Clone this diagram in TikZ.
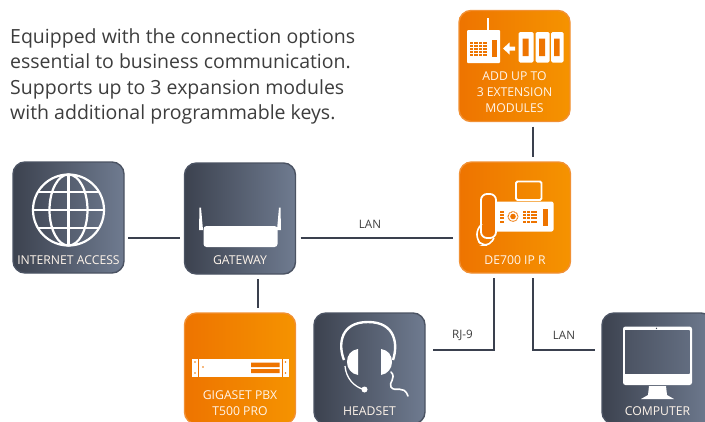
\documentclass[tikz,border=0pt]{standalone}
\usepackage{fontspec}
\setmainfont{Open Sans}
\usetikzlibrary{calc}
\definecolor{linec}{HTML}{3A404E}
\definecolor{darkL}{HTML}{3C424F}
\definecolor{darkR}{HTML}{6F7B90}
\definecolor{orL}{HTML}{EE7400}
\definecolor{orR}{HTML}{F59300}
\definecolor{txtc}{HTML}{3D3D3D}
\tikzset{
  card/.style={minimum width=111pt,minimum height=111pt,inner sep=0pt,outer sep=5pt,rounded corners=12pt,line width=1.4pt,shading angle=90},
  darkcard/.style={card,left color=darkL,right color=darkR,draw=darkL!70!darkR},
  orangecard/.style={card,left color=orL,right color=orR,draw=orL!80!white},
  cardtext/.style={text=white!92!orange,font=\fontsize{12.2}{15.8}\selectfont,align=center,inner sep=0pt},
  conn/.style={draw=linec,line width=2.2pt},
  linklabel/.style={text=txtc,font=\fontsize{11.6}{13}\selectfont,inner sep=0pt},
  icon/.style={fill=white,draw=none},
  iconline/.style={draw=white,fill=none,line width=2.2pt},
  body/.style={text=txtc,font=\fontsize{19.5}{25.6}\selectfont,align=left,anchor=north west,inner sep=0pt}
}
\begin{document}
\begin{tikzpicture}[x=1pt,y=-1pt]
\useasboundingbox (0,0) rectangle (705,421);
\clip (0,0) rectangle (705,421);
\node[body] (intro) at (10,28) {Equipped with the connection options\\essential to business communication.\\Supports up to 3 expansion modules\\with additional programmable keys.};

\node[darkcard] (inet) at (68.5,217.5) {};
\node[darkcard] (gw) at (240,218.5) {};
\node[orangecard] (pbx) at (240,368.5) {};
\node[darkcard] (head) at (369.5,368.5) {};
\node[darkcard] (comp) at (657.5,368.5) {};
\node[orangecard] (de) at (515,217.5) {};
\node[orangecard] (add) at (514.5,66) {};

% connectors
\draw[conn] ([yshift=-20.5pt,xshift=-1pt]inet.east) -- ([yshift=-19.5pt]gw.west);
\draw[conn] ([yshift=-19.5pt]gw.east) -- ([yshift=-20.5pt,xshift=-2pt]de.west);
\draw[conn] ([xshift=18pt]gw.south) -- ([xshift=18pt]pbx.north);
\draw[conn] ([xshift=18.5pt]add.south) -- ([xshift=18pt]de.north);
\coordinate (kneeA) at (494,350);
\coordinate (kneeB) at (533,350);
\draw[conn] ([xshift=-21pt]de.south) -- (kneeA) -- ([xshift=3pt]head.east |- kneeA);
\draw[conn] ([xshift=18pt]de.south) -- (kneeB) -- ([xshift=-2pt]comp.west |- kneeB);
\node[linklabel] (lanA) at (370,224) {LAN};
\node[linklabel] (rj) at (462.5,335.5) {RJ-9};
\node[linklabel] (lanB) at (564,335.5) {LAN};

% globe
\draw[iconline] (68.5,210) circle (35.5);
\draw[iconline] (68.5,210) ellipse (19 and 35.5);
\draw[iconline] (68.5,174.5) -- (68.5,245.5);
\draw[iconline] (33,210) -- (104,210);
\draw[iconline] (38,192) -- (99,192);
\draw[iconline] (38,228) -- (99,228);
\node[cardtext] (t1) at (68.5,260.5) {INTERNET ACCESS};

% router
\fill[icon,rounded corners=3pt] (203.5,226) rectangle (277.5,247);
\fill[icon] (199.5,207.5) -- (201,207.5) -- (203,230) -- (199,230) -- cycle;
\fill[icon] (279,207.5) -- (280.5,207.5) -- (281,230) -- (277,230) -- cycle;
\node[cardtext] (t2) at (240,260.5) {GATEWAY};

% PBX
\fill[icon] (192,359) rectangle (288.5,377);
\draw[orL,line width=1pt] (198,359) -- (198,377) (282.5,359) -- (282.5,377);
\fill[orL] (251,362.5) rectangle (279.5,367) (251,369) rectangle (279.5,373);
\fill[orL] (195,362) circle (0.8) (195,373) circle (0.8) (285.5,362) circle (0.8) (285.5,373) circle (0.8) (203,367) circle (0.9);
\node[cardtext] (t3) at (240,395.5) {GIGASET PBX};
\node[cardtext] (t3b) at (240,411.5) {T500 PRO};

% headset
\draw[white,line width=2.4pt,fill=none] (344,360) .. controls (338,345) and (340,322) .. (368,322) .. controls (396,322) and (398,345) .. (393,360);
\fill[icon] (358,349) .. controls (351,350) and (347,355) .. (347,362) .. controls (347,368) and (351,374) .. (358,375) -- cycle;
\fill[icon] (381,349) .. controls (388,350) and (392,355) .. (392,362) .. controls (392,368) and (388,374) .. (381,375) -- cycle;
\draw[white,line width=1.3pt] (345,366) .. controls (346,378) and (354,387) .. (364,389.5);
\fill[icon] (364.5,389.5) circle (3);
\draw[white,line width=1.6pt,line cap=round] (391,372) .. controls (397,378) and (388,383) .. (391,387) .. controls (395,393) and (404,384) .. (408,396);
\node[cardtext] (t4) at (369.5,411.5) {HEADSET};

% computer
\fill[icon,rounded corners=2.5pt] (623,326.5) rectangle (692,385);
\shade[left color=darkL!70!darkR,right color=darkL!25!darkR] (625,330) rectangle (689.5,373);
\fill[darkL] (656.5,328.3) circle (0.7);
\fill[icon] (649,386) -- (666,386) -- (667,395) -- (674,399) -- (641,399) -- (648,395) -- cycle;
\node[cardtext] (t5) at (657.5,411.5) {COMPUTER};

% extension modules
\fill[icon,rounded corners=1pt] (467,30) rectangle (500,63);
\fill[icon] (487,18) rectangle (489,31);
\foreach \i in {0,1,2,3}{\foreach \j in {0,1,2,3,4}{
  \fill[orL] ({470+\i*4.4},{41.5+\j*3.2}) rectangle ++(3.4,2.1);}}
\fill[orL] (491.5,39.5) rectangle (497,57);
\fill[icon] (503,48.5) -- (509.5,42.5) -- (509.5,46.5) -- (515,46.5) -- (515,50.5) -- (509.5,50.5) -- (509.5,54.5) -- cycle;
\foreach \x/\w in {518.5/15,535.5/14,551/12.5}{
  \fill[icon,rounded corners=1.5pt] (\x,32) rectangle ++(\w,30.5);}
\fill[orL] (522.5,38.5) rectangle (528.5,56) (539,38.5) rectangle (545,56) (554,38.5) rectangle (559.5,56);
\node[cardtext] (t6) at (514.5,76.5) {ADD UP TO};
\node[cardtext] (t6b) at (514.5,92.5) {3 EXTENSION};
\node[cardtext] (t6c) at (514.5,108.5) {MODULES};

% desk phone
\draw[white,line width=1.8pt,fill=none,rounded corners=1.5pt] (516,181.5) rectangle (541.5,200);
\fill[icon,rounded corners=2pt] (495,201.5) rectangle (553.5,231.5);
\foreach \j in {0,1,2,3}{\fill[orL] (500,{211+\j*3.2}) rectangle ++(4,2);
  \foreach \i in {0,1,2,3}{\fill[orL] ({523+\i*3.8},{211+\j*3.2}) rectangle ++(2.9,2);}}
\fill[orL] (543,208.5) rectangle (548,225.5);
\draw[orL,line width=1pt,dash pattern=on 1pt off 0.6pt] (513,216.5) circle (5);
\fill[orL] (513,216.5) circle (2.8);
\draw[white,line width=1.8pt,fill=orL,rounded corners=6pt] (481,194) rectangle (496,238);
\draw[white,line width=1.6pt,rounded corners=5pt] (482,224) -- (477,229) -- (477,240) -- (482,245) -- (490,245) -- (494,238);
\node[cardtext] (t7) at (515,260.5) {DE700 IP R};
\end{tikzpicture}
\end{document}
